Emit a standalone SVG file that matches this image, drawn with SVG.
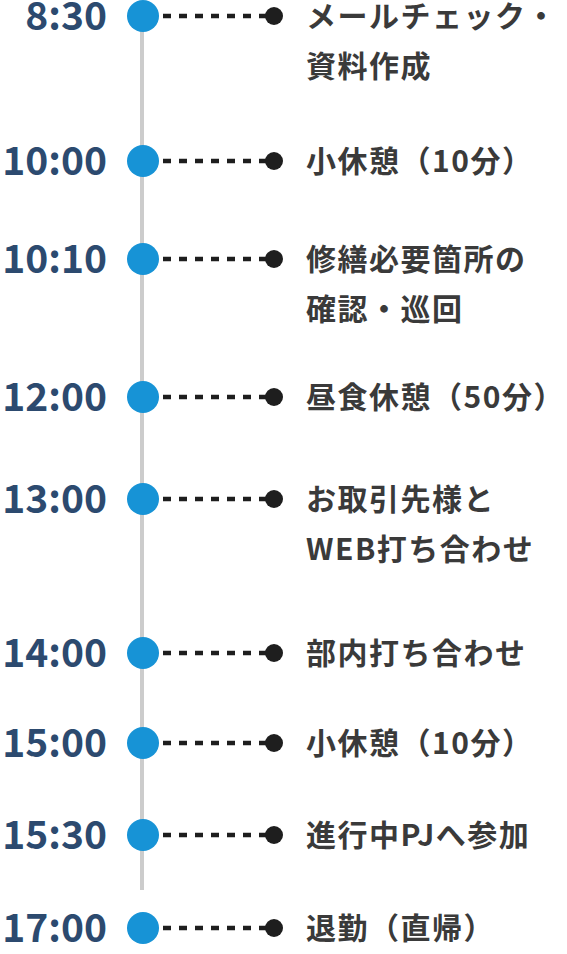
<svg xmlns="http://www.w3.org/2000/svg" width="567" height="954" viewBox="0 0 567 954">
<style>
.time{font-family:"Noto Sans CJK JP","Noto Sans",sans-serif;font-weight:700;font-size:39px;fill:#2c4a6f;text-anchor:end}
.label{font-family:"Noto Sans CJK JP","Noto Sans",sans-serif;font-weight:700;font-size:30px;fill:#3a3a3a;letter-spacing:1.5px}
.big{fill:#1793d6}
.small{fill:#1e1e1e}
.dash{stroke:#1e1e1e;stroke-width:4.5;stroke-dasharray:8 8;fill:none}
.axis{stroke:#cccccc;stroke-width:4;fill:none}
</style>
<g id="connectors">
<line class="axis" x1="142" y1="16" x2="142" y2="890"/>
<line class="dash" x1="163" y1="16" x2="268" y2="16"/>
<line class="dash" x1="163" y1="161" x2="268" y2="161"/>
<line class="dash" x1="163" y1="259" x2="268" y2="259"/>
<line class="dash" x1="163" y1="397" x2="268" y2="397"/>
<line class="dash" x1="163" y1="499" x2="268" y2="499"/>
<line class="dash" x1="163" y1="653" x2="268" y2="653"/>
<line class="dash" x1="163" y1="743" x2="268" y2="743"/>
<line class="dash" x1="163" y1="835" x2="268" y2="835"/>
<line class="dash" x1="163" y1="928" x2="268" y2="928"/>
</g>
<g id="n1"><text class="time" x="107" y="30">8:30</text><circle class="big" cx="143" cy="16" r="16"/><circle class="small" cx="274" cy="16" r="9"/><text class="label" x="306" y="27">メールチェック・</text><text class="label" x="306" y="77">資料作成</text></g>
<g id="n2"><text class="time" x="107" y="175">10:00</text><circle class="big" cx="143" cy="161" r="16"/><circle class="small" cx="274" cy="161" r="9"/><text class="label" x="306" y="172">小休憩（10分）</text></g>
<g id="n3"><text class="time" x="107" y="273">10:10</text><circle class="big" cx="143" cy="259" r="16"/><circle class="small" cx="274" cy="259" r="9"/><text class="label" x="306" y="270">修繕必要箇所の</text><text class="label" x="306" y="320">確認・巡回</text></g>
<g id="n4"><text class="time" x="107" y="411">12:00</text><circle class="big" cx="143" cy="397" r="16"/><circle class="small" cx="274" cy="397" r="9"/><text class="label" x="306" y="408">昼食休憩（50分）</text></g>
<g id="n5"><text class="time" x="107" y="513">13:00</text><circle class="big" cx="143" cy="499" r="16"/><circle class="small" cx="274" cy="499" r="9"/><text class="label" x="306" y="510">お取引先様と</text><text class="label" x="306" y="560">WEB打ち合わせ</text></g>
<g id="n6"><text class="time" x="107" y="667">14:00</text><circle class="big" cx="143" cy="653" r="16"/><circle class="small" cx="274" cy="653" r="9"/><text class="label" x="306" y="664">部内打ち合わせ</text></g>
<g id="n7"><text class="time" x="107" y="757">15:00</text><circle class="big" cx="143" cy="743" r="16"/><circle class="small" cx="274" cy="743" r="9"/><text class="label" x="306" y="754">小休憩（10分）</text></g>
<g id="n8"><text class="time" x="107" y="849">15:30</text><circle class="big" cx="143" cy="835" r="16"/><circle class="small" cx="274" cy="835" r="9"/><text class="label" x="306" y="846">進行中PJへ参加</text></g>
<g id="n9"><text class="time" x="107" y="942">17:00</text><circle class="big" cx="143" cy="928" r="16"/><circle class="small" cx="274" cy="928" r="9"/><text class="label" x="306" y="939">退勤（直帰）</text></g>
</svg>
